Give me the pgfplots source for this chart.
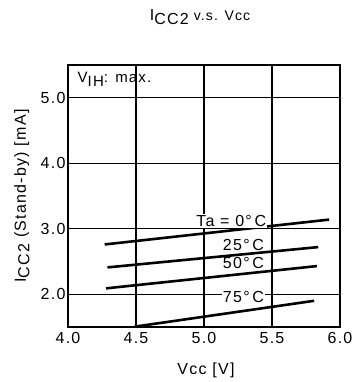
\documentclass[border=0pt]{standalone}
\usepackage{fontspec}
\setmainfont{Liberation Sans}
\newfontfamily\ls[LetterSpace=8]{Liberation Sans}
\usepackage{pgfplots}
\pgfplotsset{compat=1.18}
\begin{document}
\begin{tikzpicture}[x=1pt,y=1pt]
\path[use as bounding box] (0,0) rectangle (353,382);
\begin{axis}[
  scale only axis,
  width=272pt, height=262pt,
  anchor=south west, at={(68pt,55pt)},
  xmin=4.0, xmax=6.0, ymin=1.5, ymax=5.5,
  xtick={4.0,4.5,5.0,5.5,6.0},
  ytick={2.0,3.0,4.0,5.0},
  grid=major,
  major grid style={black, line width=1.2pt},
  axis line style={black, line width=1.4pt},
  tick style={draw=none},
  /pgf/number format/assume math mode=true,
  /pgf/number format/fixed, /pgf/number format/fixed zerofill, /pgf/number format/precision=1,
  tick label style={font=\ls\fontsize{16}{16}\selectfont},
  xticklabel style={yshift=-2pt},
  yticklabel style={xshift=1pt},
  clip=false,
]
\addplot[black, line width=2.6pt] coordinates {(4.27,2.76) (5.92,3.14)};
\addplot[black, line width=2.6pt] coordinates {(4.29,2.41) (5.84,2.72)};
\addplot[black, line width=2.6pt] coordinates {(4.28,2.09) (5.83,2.43)};
\addplot[black, line width=2.6pt] coordinates {(4.49,1.505) (5.81,1.90)};
\node[font=\ls\fontsize{16}{16}\selectfont, inner sep=1pt, fill=white] at (axis cs:5.20,3.12) {Ta = 0°\,C};
\node[font=\ls\fontsize{16}{16}\selectfont, inner sep=1pt] at (axis cs:5.29,2.75) {25°\,C};
\node[font=\ls\fontsize{16}{16}\selectfont, inner sep=1pt] at (axis cs:5.29,2.475) {50°\,C};
\node[font=\ls\fontsize{16}{16}\selectfont, inner sep=1pt, fill=white] at (axis cs:5.29,1.955) {75°\,C};
\node[font=\ls\fontsize{15}{15}\selectfont, anchor=west, inner sep=0pt] at (axis cs:4.07,5.28) {V\raisebox{-3.5pt}{IH}: max.};
\end{axis}
\node[font=\ls\fontsize{16}{16}\selectfont] at (200,365) {I\raisebox{-4pt}{CC2}\hspace{5pt}{\fontsize{14}{14}\selectfont v.s. Vcc}};
\node[font=\ls\fontsize{16}{16}\selectfont] at (206,12) {Vcc [V]};
\node[font=\ls\fontsize{16}{16}\selectfont, rotate=90] at (22,186) {I\raisebox{-3.5pt}{CC2} (Stand-by) [mA]};
\end{tikzpicture}
\end{document}
